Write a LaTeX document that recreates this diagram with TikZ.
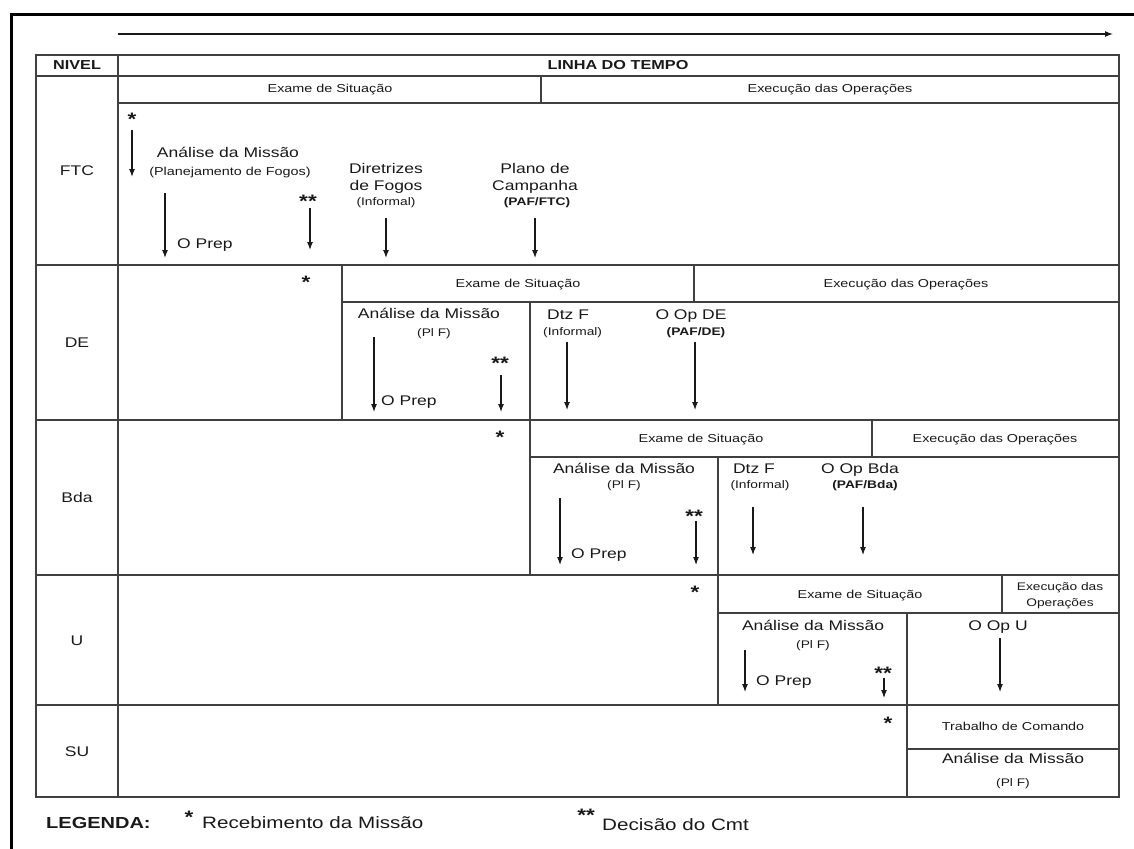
\documentclass[tikz,border=0pt]{standalone}
\usepackage{fontspec}
\setmainfont{Liberation Sans}[FakeStretch=1.25]
\usetikzlibrary{arrows.meta}
\newcommand{\fsz}[1]{\fontsize{#1}{#1}\selectfont}

\begin{document}
\begin{tikzpicture}[x=1pt,y=-1pt,
  tbl/.style={draw=black!75,line width=1.5pt},
  arr/.style={-{Latex[length=8pt,width=6pt]},line width=1.1pt,draw=black!90},
  t/.style={inner sep=0pt,text=black!90},
  lbl/.style={t,font=\fsz{14},text height=10pt,text depth=0pt},
  hdr/.style={t,font=\fsz{11.5},text height=8pt,text depth=0pt},
  sml/.style={t,font=\fsz{11},text height=7.5pt,text depth=0pt},
  smb/.style={sml,font=\fsz{11}\bfseries},
  star/.style={t,font=\fsz{18}\bfseries,text height=13pt,text depth=0pt,yshift=-4pt},
  leg/.style={t,font=\fsz{16.5},text height=12pt,text depth=0pt}]
  \useasboundingbox (0,0) rectangle (1134,848);
  % moldura e linha do tempo
  \draw[line width=3pt] (11,860) -- (11,15) -- (1140,15);
  \coordinate (tS) at (118,34); \coordinate (tE) at (1113,34);
  \draw[arr] (tS) -- (tE);

  % quadro
  \draw[tbl] (36,55) rectangle (1119,797);
  \draw[tbl] (118,55) -- (118,797);
  \draw[tbl] (36,76) -- (1119,76);
  \draw[tbl] (118,103) -- (1119,103);
  \draw[tbl] (541,76) -- (541,103);
  \foreach \y in {265,420,575,705} \draw[tbl] (36,\y) -- (1119,\y);
  \draw[tbl] (342,265) -- (342,420);
  \draw[tbl] (342,302) -- (1119,302);
  \draw[tbl] (694,265) -- (694,302);
  \draw[tbl] (530,302) -- (530,575);
  \draw[tbl] (530,457) -- (1119,457);
  \draw[tbl] (872,420) -- (872,457);
  \draw[tbl] (718,457) -- (718,705);
  \draw[tbl] (718,613) -- (1119,613);
  \draw[tbl] (1002,575) -- (1002,613);
  \draw[tbl] (907,613) -- (907,797);
  \draw[tbl] (907,749) -- (1119,749);

  % cabecalho e niveis
  \node[lbl,font=\fsz{13}\bfseries] (nivel) at (77,65) {NIVEL};
  \node[lbl,font=\fsz{13}\bfseries] (linha) at (618,65) {LINHA DO TEMPO};
  \node[lbl] (ftc) at (77,170) {FTC};
  \node[lbl] (de)  at (77,342) {DE};
  \node[lbl] (bda) at (77,497) {Bda};
  \node[lbl] (u)   at (77,640) {U};
  \node[lbl] (su)  at (77,751) {SU};

  % fases
  \node[hdr] (ftcEx) at (330,89) {Exame de Situação};
  \node[hdr] (ftcEo) at (830,89) {Execução das Operações};
  \node[hdr] (deEx)  at (518,283) {Exame de Situação};
  \node[hdr] (deEo)  at (906,283) {Execução das Operações};
  \node[hdr] (bdaEx) at (701,438) {Exame de Situação};
  \node[hdr] (bdaEo) at (995,438) {Execução das Operações};
  \node[hdr] (uEx)   at (860,594) {Exame de Situação};
  \node[sml] (uEo1)  at (1060,587) {Execução das};
  \node[sml] (uEo2)  at (1060,603) {Operações};
  \node[hdr] (suTc)  at (1013,726) {Trabalho de Comando};
  \node[lbl] (suAm)  at (1013,758) {Análise da Missão};
  \node[sml] (suPf)  at (1013,783) {(Pl F)};

  % FTC
  \node[star] (ftcS) at (132,115) {*};
  \node[lbl] (ftcAm) at (228,152) {Análise da Missão};
  \node[sml,font=\fsz{11.5}] (ftcPf) at (230,172) {(Planejamento de Fogos)};
  \node[lbl,anchor=west] (ftcOp) at (177,243) {O Prep};
  \node[star] (ftcD) at (308,197) {**};
  \node[lbl] (ftcDi1) at (386,168) {Diretrizes};
  \node[lbl] (ftcDi2) at (386,185) {de Fogos};
  \node[sml] (ftcDi3) at (386,202) {(Informal)};
  \node[lbl] (ftcPc1) at (535,168) {Plano de};
  \node[lbl] (ftcPc2) at (535,185) {Campanha};
  \node[smb] (ftcPc3) at (537,202) {(PAF/FTC)};
  \coordinate (f1) at (132,130); \coordinate (f1e) at (132,177); \draw[arr] (f1) -- (f1e);
  \coordinate (f2) at (165,193); \coordinate (f2e) at (165,258); \draw[arr] (f2) -- (f2e);
  \coordinate (f3) at (310,208); \coordinate (f3e) at (310,250); \draw[arr] (f3) -- (f3e);
  \coordinate (f4) at (386,218); \coordinate (f4e) at (386,258); \draw[arr] (f4) -- (f4e);
  \coordinate (f5) at (535,218); \coordinate (f5e) at (535,258); \draw[arr] (f5) -- (f5e);

  % DE
  \node[star] (deS) at (306,278) {*};
  \node[lbl] (deAm) at (429,313) {Análise da Missão};
  \node[sml] (dePf) at (434,333) {(Pl F)};
  \node[lbl,anchor=west] (deOp) at (381,400) {O Prep};
  \node[star] (deD) at (500,359) {**};
  \node[lbl,anchor=west] (deDtz) at (547,314) {Dtz F};
  \node[sml,anchor=west] (deInf) at (543,332) {(Informal)};
  \node[lbl] (deOOp) at (691,314) {O Op DE};
  \node[smb] (dePaf) at (696,332) {(PAF/DE)};
  \coordinate (d1) at (374,337); \coordinate (d1e) at (374,412); \draw[arr] (d1) -- (d1e);
  \coordinate (d2) at (501,375); \coordinate (d2e) at (501,412); \draw[arr] (d2) -- (d2e);
  \coordinate (d3) at (567,342); \coordinate (d3e) at (567,410); \draw[arr] (d3) -- (d3e);
  \coordinate (d4) at (695,342); \coordinate (d4e) at (695,410); \draw[arr] (d4) -- (d4e);

  % Bda
  \node[star] (bdaS) at (500,433) {*};
  \node[lbl] (bdaAm) at (624,468) {Análise da Missão};
  \node[sml] (bdaPf) at (624,485) {(Pl F)};
  \node[lbl,anchor=west] (bdaOp) at (571,553) {O Prep};
  \node[star] (bdaD) at (694,512) {**};
  \node[lbl] (bdaDtz) at (754,468) {Dtz F};
  \node[sml] (bdaInf) at (760,485) {(Informal)};
  \node[lbl] (bdaOOp) at (860,468) {O Op Bda};
  \node[smb] (bdaPaf) at (865,485) {(PAF/Bda)};
  \coordinate (b1) at (560,498); \coordinate (b1e) at (560,565); \draw[arr] (b1) -- (b1e);
  \coordinate (b2) at (696,521); \coordinate (b2e) at (696,565); \draw[arr] (b2) -- (b2e);
  \coordinate (b3) at (753,507); \coordinate (b3e) at (753,555); \draw[arr] (b3) -- (b3e);
  \coordinate (b4) at (863,507); \coordinate (b4e) at (863,555); \draw[arr] (b4) -- (b4e);

  % U e SU
  \node[star] (uS) at (695,588) {*};
  \node[lbl] (uAm) at (813,625) {Análise da Missão};
  \node[sml] (uPf) at (813,645) {(Pl F)};
  \node[lbl,anchor=west] (uOp) at (756,680) {O Prep};
  \node[star] (uD) at (883,669) {**};
  \node[lbl] (uOOp) at (998,625) {O Op U};
  \coordinate (u1) at (745,650); \coordinate (u1e) at (745,692); \draw[arr] (u1) -- (u1e);
  \coordinate (u2) at (884,678); \coordinate (u2e) at (884,698); \draw[arr] (u2) -- (u2e);
  \coordinate (u3) at (1000,638); \coordinate (u3e) at (1000,692); \draw[arr] (u3) -- (u3e);
  \node[star] (suS) at (888,719) {*};

  % legenda
  \node[leg,font=\fsz{16}\bfseries,anchor=west] (legT) at (46,822) {LEGENDA:};
  \node[star] (legS1) at (189,813) {*};
  \node[leg,anchor=west] (legR) at (202,822) {Recebimento da Missão};
  \node[star] (legS2) at (586,811) {**};
  \node[leg,anchor=west] (legD) at (602,824) {Decisão do Cmt};
\end{tikzpicture}
\end{document}
